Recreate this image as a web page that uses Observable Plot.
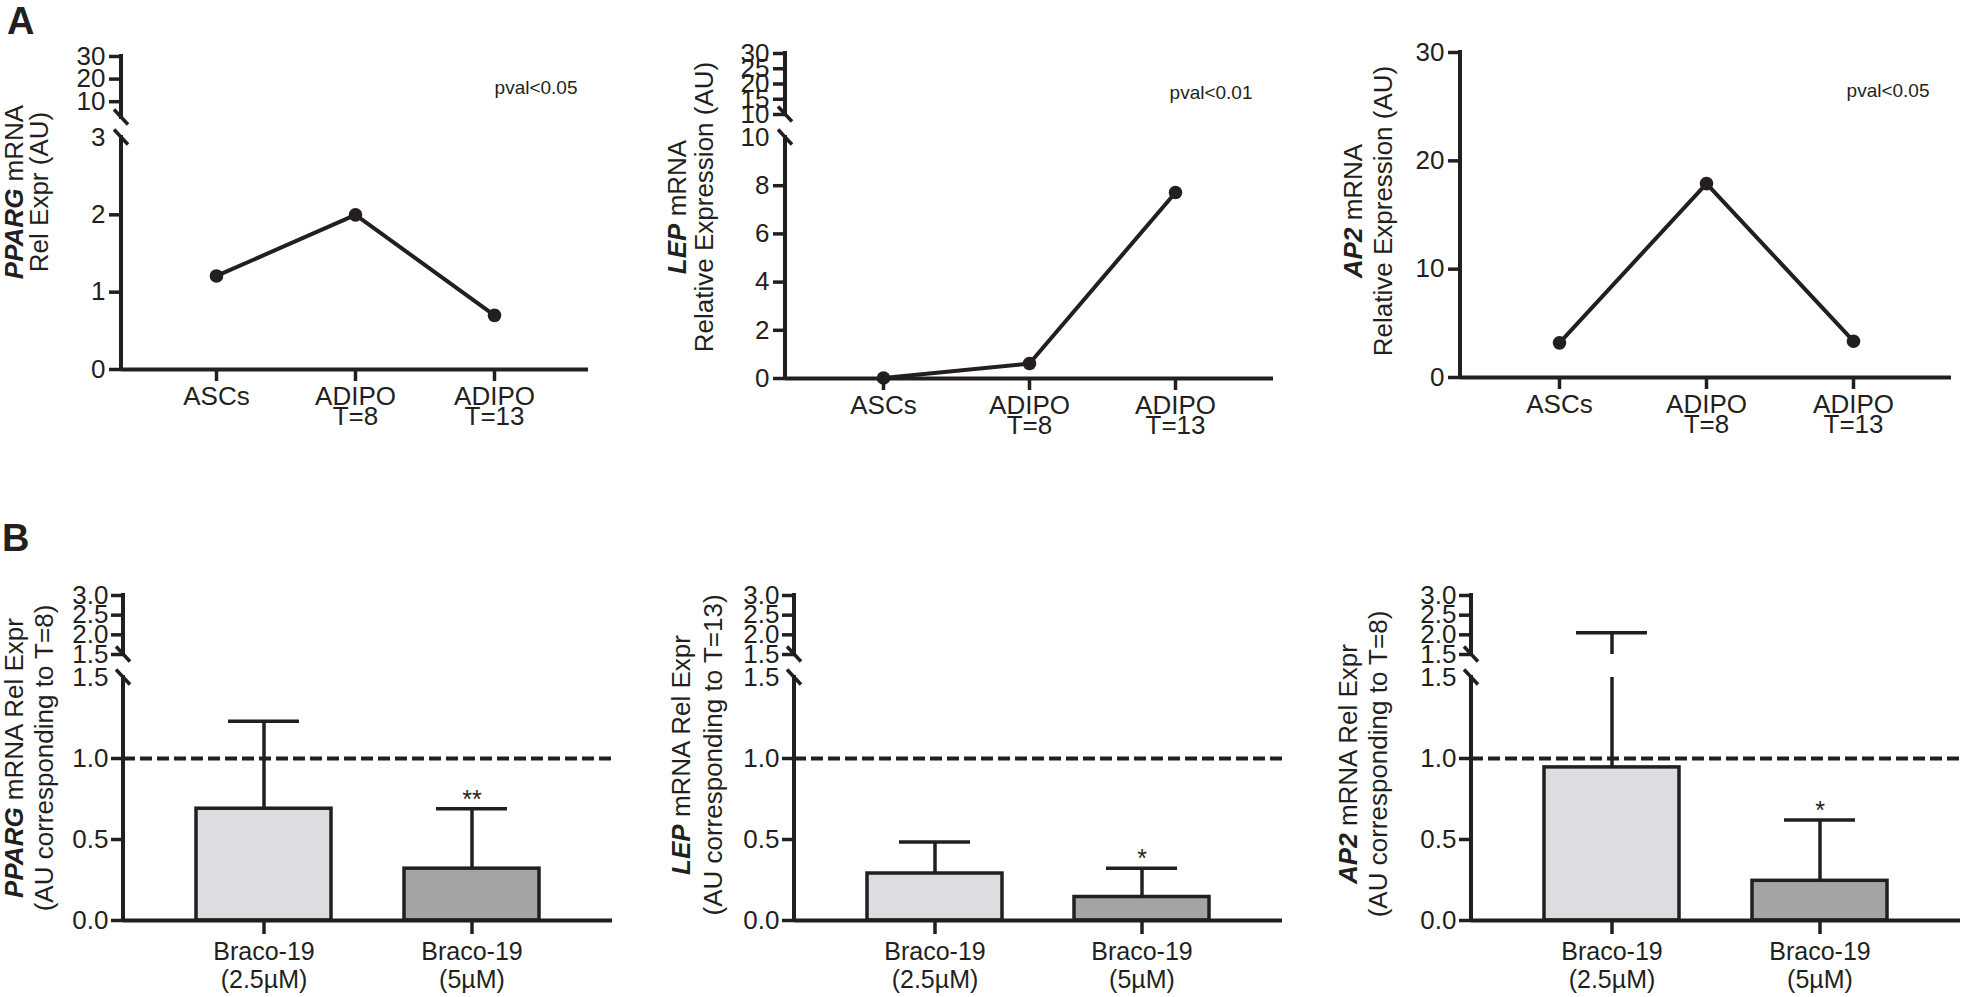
<!DOCTYPE html>
<html>
<head>
<meta charset="utf-8">
<script src="https://cdn.jsdelivr.net/npm/d3@7"></script>
<script src="https://cdn.jsdelivr.net/npm/@observablehq/plot@0.6"></script>
<style>
html, body { margin: 0; padding: 0; background: #fff; }
#fig { position: relative; width: 1962px; height: 997px; overflow: hidden; background: #fff;
       font-family: "Liberation Sans", Arial, Helvetica, sans-serif; }
.panel { position: absolute; }
.letter { position: absolute; font-weight: bold; font-size: 38px; line-height: 1; color: #231f20; }
</style>
</head>
<body>
<div id="fig">
  <div class="letter" style="left:7px; top:2px;">A</div>
  <div class="letter" style="left:2px; top:519px;">B</div>
</div>
<script>
// ---------------- data ----------------
const stagesA = ["ASCs", "ADIPO T=8", "ADIPO T=13"];
const stageLabelsA = ["ASCs", "ADIPO\nT=8", "ADIPO\nT=13"];
const ppargA = [1.21, 2.0, 0.70];
const lepA = [0.02, 0.62, 7.72];
const ap2A = [3.2, 17.9, 3.35];
const pvalA = ["pval<0.05", "pval<0.01", "pval<0.05"];

// y ticks (lower segment / upper segment of broken axes)
const ticksPpargA_low = [0, 1, 2, 3];
const ticksPpargA_high = [10, 20, 30];
const ticksLepA_low = [0, 2, 4, 6, 8, 10];
const ticksLepA_high = [10, 15, 20, 25, 30];
const ticksAp2A = [0, 10, 20, 30];

const treatB = ["Braco-19 (2.5µM)", "Braco-19 (5µM)"];
const treatLabelsB = ["Braco-19\n(2.5µM)", "Braco-19\n(5µM)"];
const ppargB = [0.69, 0.32];
const ppargBsd = [0.54, 0.37];
const ppargBsig = ["", "**"];
const lepB = [0.29, 0.145];
const lepBsd = [0.195, 0.178];
const lepBsig = ["", "*"];
const ap2B = [0.945, 0.245];
const ap2Bsd = [1.11, 0.375];
const ap2Bsig = ["", "*"];
const ticksB_low = [0, 0.5, 1.0, 1.5];
const ticksB_high = [1.5, 2.0, 2.5, 3.0];
const refLineB = [1.0];

// ---------------- styling ----------------
const INK = "#231f20";
const FONT = '"Liberation Sans", Arial, Helvetica, sans-serif';
const LIGHT = "#dcdde0", DARK = "#a3a4a6";
const EPS = 1e-4;
const fig = document.getElementById("fig");

// broken y-axis line + break slashes, positioned through the y scale
function brokenAxis(segments, breaks) {
  return (index, scales, values, dimensions) => {
    const x0 = dimensions.marginLeft;
    const g = d3.create("svg:g").attr("stroke", INK).attr("fill", "none");
    for (const [a, b] of segments) {
      g.append("line").attr("x1", x0).attr("x2", x0)
        .attr("y1", scales.y(a)).attr("y2", scales.y(b))
        .attr("stroke-width", 4).attr("stroke-linecap", "square");
    }
    for (const v of breaks) {
      const y = scales.y(v);
      g.append("line").attr("x1", x0 - 7).attr("y1", y - 7.5)
        .attr("x2", x0 + 7).attr("y2", y + 7.5).attr("stroke-width", 3.5);
    }
    return g.node();
  };
}

function addYTitle(svg, x1, x2, cy, gene, rest, line2, size) {
  const s = d3.select(svg);
  const t1 = s.append("text")
    .attr("transform", `translate(${x1},${cy}) rotate(-90)`)
    .attr("text-anchor", "middle").attr("font-size", size)
    .attr("font-family", FONT).attr("fill", INK);
  t1.append("tspan").attr("font-weight", "bold").attr("font-style", "italic").text(gene);
  t1.append("tspan").text(rest);
  s.append("text")
    .attr("transform", `translate(${x2},${cy}) rotate(-90)`)
    .attr("text-anchor", "middle").attr("font-size", size)
    .attr("font-family", FONT).attr("fill", INK).text(line2);
}

function mount(svg, left, top, width) {
  const div = document.createElement("div");
  div.className = "panel";
  div.style.left = left + "px";
  div.style.top = top + "px";
  div.style.width = width + "px";
  div.appendChild(svg);
  fig.appendChild(div);
}

const fmtInt = d3.format("d");
const fmt1 = d3.format(".1f");

function lineChart(o) {
  const rows = stagesA.map((s, i) => ({stage: s, value: o.values[i]}));
  const labelOf = new Map(stagesA.map((s, i) => [s, stageLabelsA[i]]));
  const brk = o.brk;
  const marked = brk == null ? o.ticksLow
    : o.ticksLow.filter(v => v !== brk).concat(o.ticksHigh.map(v => v === brk ? brk + EPS : v));
  const yDomain = brk == null ? [0, o.max] : [0, brk, brk + EPS, o.max];
  return Plot.plot({
    width: o.width, height: o.height,
    marginLeft: o.ml, marginRight: o.mr,
    marginTop: o.yRange[o.yRange.length - 1], marginBottom: o.height - o.yRange[0],
    style: {fontFamily: FONT, fontSize: "26px", color: INK, background: "transparent", overflow: "visible"},
    x: {type: "point", domain: stagesA, padding: 0.67},
    y: {type: "linear", domain: yDomain, range: o.yRange},
    marks: [
      Plot.ruleY([0], {stroke: INK, strokeWidth: 4}),
      brokenAxis(brk == null ? [[0, o.max]] : [[0, brk], [brk + EPS, o.max]], brk == null ? [] : [brk, brk + EPS]),
      Plot.axisY({ticks: marked, tickSize: 12, tickPadding: 4, strokeWidth: 3.5, tickFormat: fmtInt, label: null}),
      brk == null ? null : Plot.axisY({ticks: [brk], tickSize: 0, tickPadding: 16, tickFormat: fmtInt, label: null}),
      Plot.axisX({tickSize: 12, tickPadding: 9, strokeWidth: 3.5, tickFormat: d => labelOf.get(d), lineHeight: 0.78, label: null}),
      Plot.line(rows, {x: "stage", y: "value", stroke: INK, strokeWidth: 4}),
      Plot.dot(rows, {x: "stage", y: "value", r: 6.8, fill: INK}),
      Plot.text([o.pval], {text: d => d, frameAnchor: "top-right", textAnchor: "end", lineAnchor: "middle",
        dx: o.pvalDx, dy: o.pvalDy, fontSize: 19, fill: INK})
    ]
  });
}

function barChart(o) {
  const brk = 1.5, hi = brk + EPS, max = 3.0;
  const rows = treatB.map((t, i) => ({treat: t, mean: o.means[i], top: o.means[i] + o.sds[i], sig: o.sigs[i]}));
  const segs = rows.flatMap(d => d.top > brk
    ? [{treat: d.treat, lo: d.mean, hi: brk}, {treat: d.treat, lo: hi, hi: d.top}]
    : [{treat: d.treat, lo: d.mean, hi: d.top}]);
  const labelOf = new Map(treatB.map((t, i) => [t, treatLabelsB[i]]));
  const marked = ticksB_low.filter(v => v !== brk).concat(ticksB_high.map(v => v === brk ? hi : v));
  const yRange = [420, 177, 154, 95];
  const height = 497;
  return Plot.plot({
    width: o.width, height,
    marginLeft: o.ml, marginRight: o.mr,
    marginTop: yRange[3], marginBottom: height - yRange[0],
    style: {fontFamily: FONT, fontSize: "26px", color: INK, background: "transparent", overflow: "visible"},
    x: {type: "band", domain: treatB, padding: 0.35},
    y: {type: "linear", domain: [0, brk, hi, max], range: yRange},
    color: {domain: treatB, range: [LIGHT, DARK]},
    marks: [
      Plot.barY(rows, {x: "treat", y: "mean", fill: "treat", stroke: INK, strokeWidth: 3.5}),
      Plot.ruleY(refLineB, {stroke: INK, strokeWidth: 4, strokeDasharray: "12,5"}),
      Plot.ruleX(segs, {x: "treat", y1: "lo", y2: "hi", stroke: INK, strokeWidth: 3.5}),
      Plot.tickY(rows, {x: "treat", y: "top", stroke: INK, strokeWidth: 3.5, inset: 32}),
      Plot.text(rows, {x: "treat", y: "top", text: "sig", lineAnchor: "bottom", dy: -1, fontSize: 25, fill: INK}),
      Plot.ruleY([0], {stroke: INK, strokeWidth: 4}),
      brokenAxis([[0, brk], [hi, max]], [brk, hi]),
      Plot.axisY({ticks: marked, tickSize: 12, tickPadding: 3, strokeWidth: 3.5, tickFormat: fmt1, label: null}),
      Plot.axisY({ticks: [brk], tickSize: 0, tickPadding: 15, tickFormat: fmt1, label: null}),
      Plot.axisX({tickSize: 14, tickPadding: 6, strokeWidth: 3.5, tickFormat: d => labelOf.get(d),
        lineHeight: 1.12, fontSize: 25, label: null})
    ]
  });
}

// ---------------- row A ----------------
const a1 = lineChart({values: ppargA, width: 620, height: 460, ml: 121, mr: 32,
  brk: 3, max: 30, ticksLow: ticksPpargA_low, ticksHigh: ticksPpargA_high,
  yRange: [369, 137, 117, 56], pval: pvalA[0], pvalDx: -11, pvalDy: 31});
addYTitle(a1, 23, 48, 192, "PPARG", " mRNA", "Rel Expr (AU)", 26);
mount(a1, 0, 0, 620);

const a2 = lineChart({values: lepA, width: 650, height: 460, ml: 145, mr: 17,
  brk: 10, max: 30, ticksLow: ticksLepA_low, ticksHigh: ticksLepA_high,
  yRange: [378, 137, 114, 53], pval: pvalA[1], pvalDx: -21, pvalDy: 39});
addYTitle(a2, 46, 73, 207, "LEP", " mRNA", "Relative Expression (AU)", 26);
mount(a2, 640, 0, 650);

const a3 = lineChart({values: ap2A, width: 662, height: 460, ml: 160, mr: 11,
  brk: null, max: 30, ticksLow: ticksAp2A, ticksHigh: [],
  yRange: [377, 52], pval: pvalA[2], pvalDx: -22, pvalDy: 38});
addYTitle(a3, 62, 92, 211, "AP2", " mRNA", "Relative Expression (AU)", 26);
mount(a3, 1300, 0, 662);

// ---------------- row B ----------------
const b1 = barChart({means: ppargB, sds: ppargBsd, sigs: ppargBsig, width: 620, ml: 123, mr: 8});
addYTitle(b1, 23, 53, 258, "PPARG", " mRNA Rel Expr", "(AU corresponding to T=8)", 26);
mount(b1, 0, 500, 620);

const b2 = barChart({means: lepB, sds: lepBsd, sigs: lepBsig, width: 650, ml: 154, mr: 8});
addYTitle(b2, 50, 82, 255, "LEP", " mRNA Rel Expr", "(AU corresponding to T=13)", 26);
mount(b2, 640, 500, 650);

const b3 = barChart({means: ap2B, sds: ap2Bsd, sigs: ap2Bsig, width: 662, ml: 171, mr: 2});
addYTitle(b3, 57, 87, 264, "AP2", " mRNA Rel Expr", "(AU corresponding to T=8)", 26);
mount(b3, 1300, 500, 662);
</script>
</body>
</html>
